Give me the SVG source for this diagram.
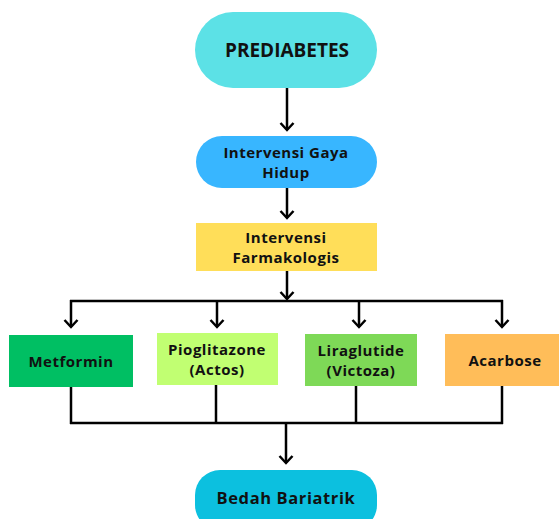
<svg xmlns="http://www.w3.org/2000/svg" width="559" height="519" viewBox="0 0 559 519">
<style>
  .t{font-family:"Open Sans","Liberation Sans",sans-serif;font-weight:700;fill:#111;text-anchor:middle;dominant-baseline:central}
  .s14{font-size:15px;letter-spacing:0.5px}
  .s16{font-size:16.5px;letter-spacing:0.6px}
  .s17{font-size:19px}
  .c{fill:none;stroke:#000;stroke-width:2.5}
</style>
<defs>
  <marker id="ah" markerUnits="userSpaceOnUse" markerWidth="20" markerHeight="20" viewBox="-10 -10 20 20" refX="0" refY="0" orient="auto" overflow="visible">
    <path d="M-7,-6.5 L0,0 L-7,6.5" fill="none" stroke="#000" stroke-width="2.5"/>
  </marker>
</defs>
<rect width="559" height="519" fill="#fff"/>
<g id="connectors">
  <line class="c" x1="287" y1="88" x2="287" y2="130" marker-end="url(#ah)"/>
  <line class="c" x1="287" y1="188" x2="287" y2="218" marker-end="url(#ah)"/>
  <line class="c" x1="287" y1="271" x2="287" y2="299" marker-end="url(#ah)"/>
  <line class="c" x1="70" y1="301" x2="503" y2="301"/>
  <line class="c" x1="71" y1="300" x2="71" y2="327" marker-end="url(#ah)"/>
  <line class="c" x1="217" y1="300" x2="217" y2="327" marker-end="url(#ah)"/>
  <line class="c" x1="359" y1="300" x2="359" y2="327" marker-end="url(#ah)"/>
  <line class="c" x1="502" y1="300" x2="502" y2="327" marker-end="url(#ah)"/>
  <line class="c" x1="71" y1="387" x2="71" y2="424"/>
  <line class="c" x1="216" y1="385" x2="216" y2="424"/>
  <line class="c" x1="356" y1="386" x2="356" y2="424"/>
  <line class="c" x1="502" y1="386" x2="502" y2="424"/>
  <line class="c" x1="70" y1="423" x2="503" y2="423"/>
  <line class="c" x1="286" y1="423" x2="286" y2="463" marker-end="url(#ah)"/>
</g>
<g id="prediabetes">
  <rect x="195" y="12" width="182" height="76" rx="38" fill="#5CE1E6"/>
  <text class="t s17" x="287" y="50">PREDIABETES</text>
</g>
<g id="gaya-hidup">
  <rect x="196" y="136" width="181" height="52" rx="26" fill="#38B6FF"/>
  <text class="t s14" x="286" y="152">Intervensi Gaya</text>
  <text class="t s14" x="286" y="172">Hidup</text>
</g>
<g id="farmakologis">
  <rect x="196" y="223" width="181" height="48" fill="#FFDE59"/>
  <text class="t s14" x="286" y="237">Intervensi</text>
  <text class="t s14" x="286" y="257">Farmakologis</text>
</g>
<g id="metformin">
  <rect x="9" y="335" width="124" height="52" fill="#00BF63"/>
  <text class="t s14" x="71" y="361">Metformin</text>
</g>
<g id="pioglitazone">
  <rect x="157" y="333" width="121" height="52" fill="#C1FF72"/>
  <text class="t s14" x="217" y="349">Pioglitazone</text>
  <text class="t s14" x="217" y="369">(Actos)</text>
</g>
<g id="liraglutide">
  <rect x="305" y="334" width="112" height="52" fill="#7ED957"/>
  <text class="t s14" x="361" y="350">Liraglutide</text>
  <text class="t s14" x="361" y="370">(Victoza)</text>
</g>
<g id="acarbose">
  <rect x="445" y="334" width="114" height="52" fill="#FFBD59"/>
  <text class="t s14" x="505" y="360">Acarbose</text>
</g>
<g id="bedah-bariatrik">
  <rect x="195" y="470" width="182" height="60" rx="25" fill="#0CC0DF"/>
  <text class="t s16" x="286" y="497">Bedah Bariatrik</text>
</g>
</svg>
